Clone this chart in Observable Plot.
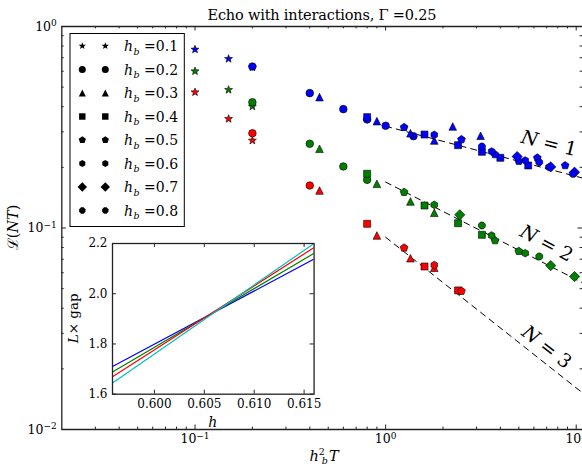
<!DOCTYPE html>
<html><head><meta charset="utf-8">
<script src="https://cdn.jsdelivr.net/npm/d3@7"></script>
<script src="https://cdn.jsdelivr.net/npm/@observablehq/plot@0.6"></script>
<style>
html,body{margin:0;padding:0;background:#fff;overflow:hidden}
#wrap{position:relative;width:582px;height:466px;}
#wrap svg{position:absolute;overflow:visible}
</style></head><body><div id="wrap"></div>
<script>
// ---------- data ----------
const hbValues = [0.1, 0.2, 0.3, 0.4, 0.5, 0.6, 0.7, 0.8];
const seriesN = [1, 2, 3];
// [h_b, h_b^2 T, L(NT)]
const pointsN1 = [
  [0.1,0.1,0.769],[0.1,0.15,0.691],[0.1,0.2,0.627],
  [0.2,0.2,0.633],[0.2,0.4,0.467],[0.2,0.6,0.389],[0.2,0.8,0.3455],[0.2,1.0,0.3215],[0.2,1.4,0.2855],
  [0.3,0.45,0.446],[0.3,0.9,0.339],[0.3,1.35,0.2954],[0.3,1.8,0.2718],[0.3,2.25,0.319],[0.3,3.15,0.287],
  [0.4,0.8,0.355],[0.4,1.6,0.291],[0.4,2.4,0.2576],[0.4,3.2,0.2389],[0.4,4.0,0.223],[0.4,5.6,0.2043],
  [0.5,1.25,0.316],[0.5,2.5,0.275],[0.5,3.75,0.2316],[0.5,5.0,0.2145],[0.5,6.25,0.223],[0.5,8.75,0.2043],
  [0.6,1.8,0.29],[0.6,3.6,0.2397],[0.6,5.4,0.2163],[0.6,7.2,0.2003],
  [0.7,4.9,0.2263],[0.7,7.35,0.201],[0.7,9.8,0.1891],
  [0.8,3.2,0.2538],[0.8,6.4,0.2121],[0.8,9.6,0.1858]
];
const pointsN2 = [
  [0.1,0.1,0.6],[0.1,0.15,0.485],[0.1,0.2,0.401],
  [0.2,0.2,0.421],[0.2,0.4,0.2618],[0.2,0.6,0.202],[0.2,0.8,0.1734],
  [0.3,0.45,0.2472],[0.3,0.9,0.1657],[0.3,1.35,0.1354],[0.3,1.8,0.119],
  [0.4,0.8,0.1858],[0.4,1.6,0.1293],[0.4,2.4,0.1056],[0.4,3.2,0.0925],
  [0.5,1.25,0.1506],[0.5,3.75,0.0867],[0.5,5.0,0.0767],
  [0.6,1.8,0.1303],[0.6,3.6,0.0918],[0.6,5.4,0.075],
  [0.7,2.45,0.1163],[0.7,7.35,0.0651],[0.7,9.8,0.0574],
  [0.8,3.2,0.1029],[0.8,6.4,0.0722]
];
const pointsN3 = [
  [0.1,0.1,0.472],[0.1,0.15,0.348],[0.1,0.2,0.2718],
  [0.2,0.2,0.2954],[0.2,0.4,0.1625],
  [0.3,0.45,0.1535],[0.3,0.9,0.0918],[0.3,1.35,0.0708],[0.3,1.8,0.0635],
  [0.4,0.8,0.1049],[0.4,1.6,0.0644],[0.4,2.4,0.049],
  [0.5,1.25,0.0797],[0.5,2.5,0.0486],
  [0.6,1.8,0.0655]
];
// dashed power-law guides: end points [x, y]
const fitX = [1, 10.79];
const fitYN1 = [0.32, 0.177];
const fitYN2 = [0.169, 0.0535];
const fitYN3 = [0.09, 0.0152];
// "N = k" label anchors
const labelX = [7.19, 6.98, 6.99];
const labelY = [0.2626, 0.0838, 0.0256];
// ticks
const xMajorTicks = [0.1, 1, 10];
const xMinorTicks = [0.03,0.04,0.05,0.06,0.07,0.08,0.09,0.2,0.3,0.4,0.5,0.6,0.7,0.8,0.9,2,3,4,5,6,7,8,9];
const yMajorTicks = [0.01, 0.1, 1];
const yMinorTicks = [0.02,0.03,0.04,0.05,0.06,0.07,0.08,0.09,0.2,0.3,0.4,0.5,0.6,0.7,0.8,0.9];
// inset
const insetH = [0.5958, 0.616];
const insetBlue = [1.71, 2.138];
const insetGreen = [1.688, 2.161];
const insetRed = [1.669, 2.184];
const insetCyan = [1.645, 2.2];
const insetXTicks = [0.600, 0.605, 0.610, 0.615];
const insetYTicks = [1.6, 1.8, 2.0, 2.2];

// ---------- styles ----------
const FONT = "'DejaVu Serif',serif";
const colorOfN = {1: "#0000ff", 2: "#008000", 3: "#ff0000"};
function poly(n, rot, k) {
  return {draw(ctx, size) {
    const r = Math.sqrt(size / Math.PI) * k;
    for (let i = 0; i < n; i++) {
      const a = rot + 2 * Math.PI * i / n;
      const px = r * Math.sin(a), py = -r * Math.cos(a);
      if (i) ctx.lineTo(px, py); else ctx.moveTo(px, py);
    }
    ctx.closePath();
  }};
}
const starSym = {draw(ctx, size) {
  const R = Math.sqrt(size / Math.PI) * 1.1, ri = R * 0.42;
  for (let i = 0; i < 10; i++) {
    const a = Math.PI * i / 5, rr = i % 2 ? ri : R;
    const px = rr * Math.sin(a), py = -rr * Math.cos(a);
    if (i) ctx.lineTo(px, py); else ctx.moveTo(px, py);
  }
  ctx.closePath();
}};
const circleSym = {draw(ctx, size) { const r = Math.sqrt(size / Math.PI); ctx.moveTo(r, 0); ctx.arc(0, 0, r, 0, 2 * Math.PI); }};
const triSym = {draw(ctx, size) { const r = Math.sqrt(size / Math.PI) * 1.0; ctx.moveTo(0, -r); ctx.lineTo(r, r); ctx.lineTo(-r, r); ctx.closePath(); }};
const symbolOfHb = {
  0.1: starSym, 0.2: circleSym, 0.3: triSym, 0.4: poly(4, Math.PI / 4, 1.3),
  0.5: poly(5, 0, 1.08), 0.6: poly(6, 0, 1.0), 0.7: poly(4, 0, 1.35), 0.8: poly(8, Math.PI / 8, 0.98)
};

// ---------- table ----------
const rows = [];
[[1, pointsN1], [2, pointsN2], [3, pointsN3]].forEach(([N, pts]) =>
  pts.forEach(([hb, x, y]) => rows.push({N, hb, x, y})));
const fitRows = [];
[[1, fitYN1], [2, fitYN2], [3, fitYN3]].forEach(([N, ys]) =>
  fitX.forEach((x, i) => fitRows.push({N, x, y: ys[i]})));
const labelRows = seriesN.map((N, i) => ({N, x: labelX[i], y: labelY[i], text: `N = ${N}`}));
const labelRotate = {1: 14, 2: 28, 3: 38};

// ---------- main plot ----------
const W = 582, H = 466, ML = 61.3, MR = 0, MT = 26, MB = 37;
const FW = W - ML - MR, FH = H - MT - MB;
const major = 4.5, minor = 2.4, tickStroke = {stroke: "#222", strokeWidth: 1};

const dotMarks = [];
hbValues.forEach(hb => {
  dotMarks.push(Plot.dot(rows.filter(d => d.hb === hb), {
    x: "x", y: "y", fill: "N", symbol: symbolOfHb[hb], r: 3.8, stroke: "#000", strokeWidth: 0.6
  }));
});

const main = Plot.plot({
  width: W, height: H, marginLeft: ML, marginRight: MR, marginTop: MT, marginBottom: MB,
  style: {fontFamily: FONT, fontSize: "12.5px", color: "#000", background: "transparent"},
  x: {type: "log", domain: [0.02, 10.79]},
  y: {type: "log", domain: [0.01, 1]},
  color: {domain: seriesN, range: seriesN.map(n => colorOfN[n])},
  marks: [
    Plot.ruleX(xMajorTicks, {x: d => d, insetTop: FH - major, ...tickStroke}),
    Plot.ruleX(xMajorTicks, {x: d => d, insetBottom: FH - major, ...tickStroke}),
    Plot.ruleX(xMinorTicks, {x: d => d, insetTop: FH - minor, ...tickStroke}),
    Plot.ruleX(xMinorTicks, {x: d => d, insetBottom: FH - minor, ...tickStroke}),
    Plot.ruleY(yMajorTicks, {y: d => d, insetRight: FW - major, ...tickStroke}),
    Plot.ruleY(yMajorTicks, {y: d => d, insetLeft: FW - major, ...tickStroke}),
    Plot.ruleY(yMinorTicks, {y: d => d, insetRight: FW - minor, ...tickStroke}),
    Plot.ruleY(yMinorTicks, {y: d => d, insetLeft: FW - minor, ...tickStroke}),
    Plot.ruleX([0.02], {stroke: "#222", strokeWidth: 1.3}),
    Plot.ruleY([0.01, 1], {stroke: "#222", strokeWidth: 1.3}),
    Plot.line(fitRows, {x: "x", y: "y", z: "N", stroke: "#000", strokeWidth: 1, strokeDasharray: "6,5"}),
    ...dotMarks,
    Plot.text(labelRows, {x: "x", y: "y", text: "text", rotate: d => labelRotate[d.N], fontSize: 19, fill: "#000"}),
    Plot.axisX({ticks: xMajorTicks, tickSize: 0, tickPadding: 5, tickFormat: d => "10^" + Math.round(Math.log10(d)), label: null, fontSize: 12.5}),
    Plot.axisY({ticks: yMajorTicks, tickSize: 0, tickPadding: 5, tickFormat: d => "10^" + Math.round(Math.log10(d)), label: null, fontSize: 12.5})
  ]
});
main.style.left = "0px"; main.style.top = "0px";
document.getElementById("wrap").appendChild(main);

const ms = d3.select(main);
// rich tick labels 10^k and N labels
ms.selectAll("text").each(function () {
  const t = this.textContent, m = /^10\^(-?\d+)$/.exec(t);
  if (m) {
    const el = d3.select(this); el.text("10");
    el.append("tspan").attr("dy", "-0.5em").attr("font-size", "9px").text(m[1].replace("-", "\u2212"));
  }
  const n = /^N = (\d)$/.exec(t);
  if (n) {
    const el = d3.select(this); el.text("");
    el.append("tspan").attr("font-style", "italic").text("N");
    el.append("tspan").text(" = " + n[1]);
  }
});

// title
ms.append("text").attr("x", 322).attr("y", 20).attr("text-anchor", "middle")
  .attr("font-family", FONT).attr("font-size", 14.5)
  .attr("textLength", 229).attr("lengthAdjust", "spacing")
  .text("Echo with interactions, \u0393 =0.25");
// x label
{
  const t = ms.append("text").attr("x", 324).attr("y", 461).attr("text-anchor", "middle")
    .attr("font-family", FONT).attr("font-size", 14.5);
  t.append("tspan").attr("font-style", "italic").text("h");
  t.append("tspan").attr("font-size", 9.5).attr("dy", -6).text("2");
  t.append("tspan").attr("font-size", 9.5).attr("font-style", "italic").attr("dx", -3).attr("dy", 9).text("b");
  t.append("tspan").attr("font-style", "italic").attr("dx", 1).attr("dy", -3).text("T");
}
// y label
{
  const t = ms.append("text").attr("transform", "translate(18,227.5) rotate(-90)").attr("text-anchor", "middle")
    .attr("font-family", FONT).attr("font-size", 14.5);
  t.append("tspan").text("\u2112(");
  t.append("tspan").attr("font-style", "italic").text("NT");
  t.append("tspan").text(")");
}
// legend
{
  const g = ms.append("g");
  g.append("rect").attr("x", 70).attr("y", 33.5).attr("width", 114.3).attr("height", 193)
    .attr("fill", "#fff").attr("stroke", "#000").attr("stroke-width", 1);
  const r = 3.5, size = Math.PI * r * r;
  hbValues.forEach((hb, i) => {
    const cy = 46 + i * 23.5;
    [82.3, 105.3].forEach(cx => {
      const p = d3.path(); symbolOfHb[hb].draw(p, size);
      g.append("path").attr("d", p.toString()).attr("transform", `translate(${cx},${cy})`).attr("fill", "#000");
    });
    const t = g.append("text").attr("x", 124).attr("y", cy + 5).attr("text-anchor", "start")
      .attr("font-family", FONT).attr("font-size", 14);
    t.append("tspan").attr("font-style", "italic").text("h");
    t.append("tspan").attr("font-style", "italic").attr("font-size", 9.5).attr("dx", 0.5).attr("dy", 3.5).text("b");
    t.append("tspan").attr("dy", -3.5).text(" =" + hb.toFixed(1));
  });
}

// ---------- inset ----------
const IL = 50, IR = 10, IT = 5, IB = 35;
const IFW = 313.3 - 111.7, IFH = 394 - 243.3;
const insetRows = [];
[["blue", insetBlue], ["green", insetGreen], ["red", insetRed], ["cyan", insetCyan]].forEach(([c, ys]) =>
  insetH.forEach((h, i) => insetRows.push({c, h, v: ys[i]})));
const insetColor = {blue: "#0000ff", green: "#008000", red: "#ff0000", cyan: "#00bfbf"};
const it = 4;
const inset = Plot.plot({
  width: IFW + IL + IR, height: IFH + IT + IB, marginLeft: IL, marginRight: IR, marginTop: IT, marginBottom: IB,
  style: {fontFamily: FONT, fontSize: "12px", color: "#000", background: "transparent"},
  x: {domain: [0.5958, 0.616]},
  y: {domain: [1.6, 2.2]},
  marks: [
    Plot.frame({fill: "#fff", stroke: null}),
    ...["blue", "green", "red", "cyan"].map(c =>
      Plot.line(insetRows.filter(d => d.c === c), {x: "h", y: "v", stroke: insetColor[c], strokeWidth: 1.2, clip: true})),
    Plot.ruleX(insetXTicks, {x: d => d, insetTop: IFH - it, ...tickStroke}),
    Plot.ruleX(insetXTicks, {x: d => d, insetBottom: IFH - it, ...tickStroke}),
    Plot.ruleY(insetYTicks, {y: d => d, insetRight: IFW - it, ...tickStroke}),
    Plot.ruleY(insetYTicks, {y: d => d, insetLeft: IFW - it, ...tickStroke}),
    Plot.frame({stroke: "#222", strokeWidth: 1.3}),
    Plot.axisX({ticks: insetXTicks, tickSize: 0, tickPadding: 5, tickFormat: d3.format(".3f"), label: null}),
    Plot.axisY({ticks: insetYTicks, tickSize: 0, tickPadding: 5, tickFormat: d3.format(".1f"), label: null})
  ]
});
inset.style.left = (111.7 - IL) + "px"; inset.style.top = (243.3 - IT) + "px";
document.getElementById("wrap").appendChild(inset);
{
  const is = d3.select(inset);
  is.append("text").attr("x", IL + IFW / 2).attr("y", 427 - 238.3).attr("text-anchor", "middle")
    .attr("font-family", FONT).attr("font-size", 14).attr("font-style", "italic").text("h");
  const t = is.append("text").attr("transform", `translate(${73.3 - (111.7 - IL) + 4},${IT + IFH / 2}) rotate(-90)`)
    .attr("text-anchor", "middle").attr("font-family", FONT).attr("font-size", 13.5);
  t.append("tspan").attr("font-style", "italic").text("L");
  t.append("tspan").text("\u00d7 gap");
}
</script></body></html>
